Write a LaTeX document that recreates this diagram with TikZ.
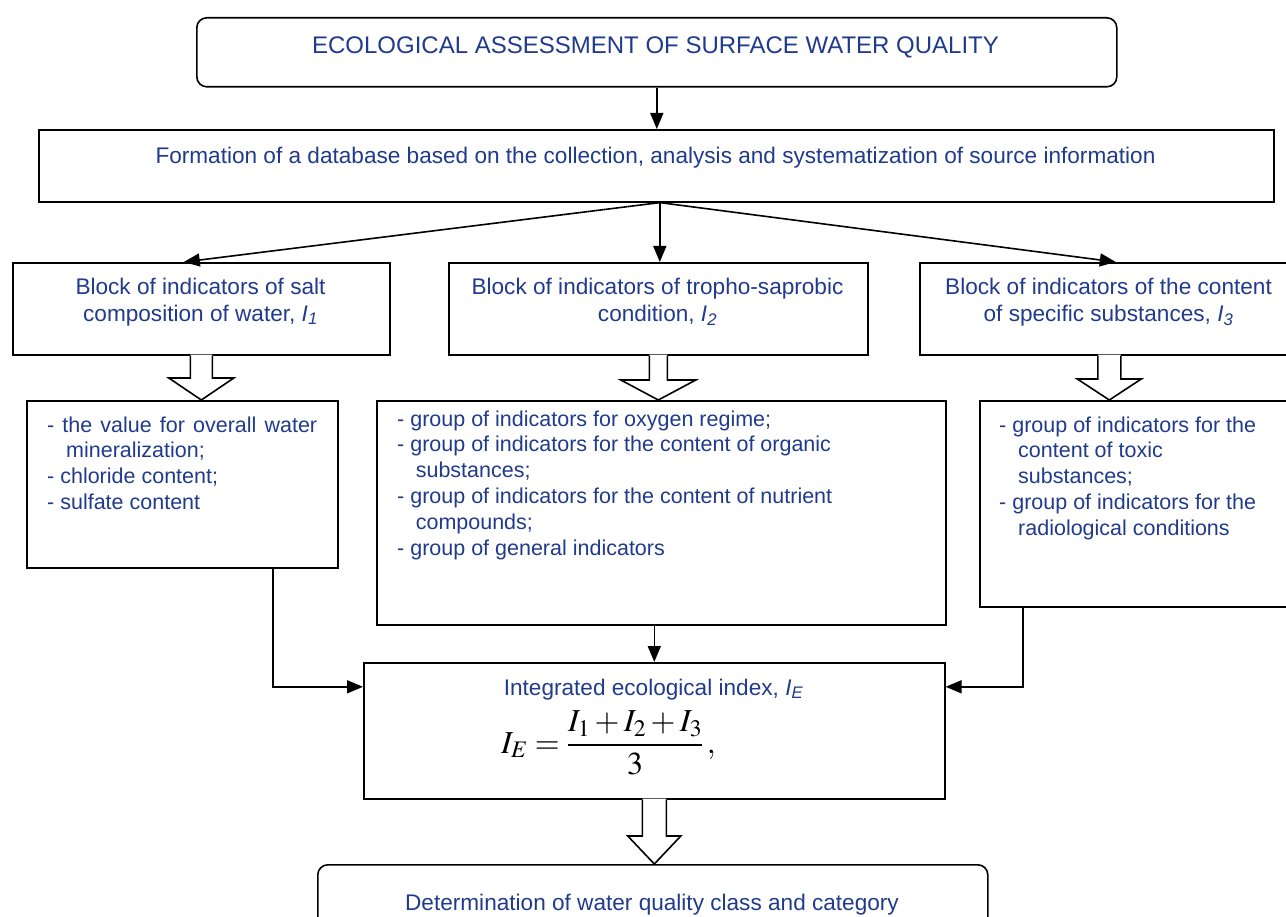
\documentclass[tikz,border=0pt]{standalone}
\usepackage{mathptmx}
\usepackage[no-math]{fontspec}
\setmainfont{Liberation Sans}
\usetikzlibrary{arrows.meta,calc}
\definecolor{tblue}{RGB}{32,58,140}
\newcommand{\hollowarr}[5]{%
  \path[fill=white] let \p1=(#1), \p2=(#2) in
    (\x1-#3,\y1+1pt) -- (\x1-#3,\y2+#5) -- (\x1-#4,\y2+#5) -- (\x1,\y2) -- (\x1+#4,\y2+#5) -- (\x1+#3,\y2+#5) -- (\x1+#3,\y1+1pt) -- cycle;
  \draw[line width=1.6pt, line join=miter] let \p1=(#1), \p2=(#2) in
    (\x1-#3,\y1) -- (\x1-#3,\y2+#5) -- (\x1-#4,\y2+#5) -- (\x1,\y2) -- (\x1+#4,\y2+#5) -- (\x1+#3,\y2+#5) -- (\x1+#3,\y1);
}
\begin{document}
\begin{tikzpicture}[x=1pt,y=-1pt,
  box/.style={draw, line width=1.6pt, inner sep=0pt, anchor=north west},
  rbox/.style={box, rounded corners=10pt},
  conn/.style={line width=1.6pt, -{Triangle[length=16pt,width=13pt]}},
  txt/.style={inner sep=0pt, text=tblue, align=center, font=\fontsize{22.6}{27}\selectfont, anchor=north},
  ttl/.style={txt, font=\fontsize{24}{28.8}\selectfont},
  lst/.style={inner sep=0pt, text=tblue, align=left, font=\fontsize{21.5}{25.8}\selectfont, anchor=north west},
]
\useasboundingbox (0,0) rectangle (1286,917);
\clip (0,0) rectangle (1286,917);

% boxes
\node[rbox, minimum width=920pt, minimum height=69pt] (top) at (196,17) {};
\node[box, minimum width=1235pt, minimum height=72pt] (db) at (38,129) {};
\node[box, minimum width=377pt, minimum height=92pt] (b1) at (12,262) {};
\node[box, minimum width=419pt, minimum height=92pt] (b2) at (448,262) {};
\node[box, minimum width=379pt, minimum height=92pt] (b3) at (919,262) {};
\node[box, minimum width=311pt, minimum height=167pt] (l1) at (26,400) {};
\node[box, minimum width=569pt, minimum height=224pt] (l2) at (376,400) {};
\node[box, minimum width=330pt, minimum height=206pt] (l3) at (979,400) {};
\node[box, minimum width=581pt, minimum height=136pt] (ie) at (363,662) {};
\node[rbox, minimum width=670pt, minimum height=80pt] (det) at (317,864) {};

% texts
\node[ttl] (ttop) at (655.5,32.8) {\strut ECOLOGICAL ASSESSMENT OF SURFACE WATER QUALITY};
\node[txt] (tdb) at (655.5,144.1) {\strut Formation of a database based on the collection, analysis and systematization of source information};
\node[txt] (tb1) at (200.5,275.1) {\strut Block of indicators of salt\\\strut composition of water, \textit{I\textsubscript{1}}};
\node[txt] (tb2) at (657.5,275.1) {\strut Block of indicators of tropho-saprobic\\\strut condition, \textit{I\textsubscript{2}}};
\node[txt] (tb3) at (1108.5,275.1) {\strut Block of indicators of the content\\\strut of specific substances, \textit{I\textsubscript{3}}};

\node[lst] (tl1) at (47,413.8) {\strut\makebox[270pt][s]{- the value for overall water}\\\hspace*{19pt}mineralization;\\- chloride content;\\- sulfate content};
\node[lst] (tl2) at (397,407.8) {\strut- group of indicators for oxygen regime;\\- group of indicators for the content of organic\\\hspace*{18.6pt}substances;\\- group of indicators for the content of nutrient\\\hspace*{18.6pt}compounds;\\- group of general indicators};
\node[lst] (tl3) at (999,413.8) {\strut- group of indicators for the\\\hspace*{19pt}content of toxic\\\hspace*{19pt}substances;\\- group of indicators for the\\\hspace*{19pt}radiological conditions};

\node[txt] (tie) at (653.5,676.1) {\strut Integrated ecological index, \textit{I\textsubscript{E}}};
\node[anchor=base west, inner sep=0pt, font=\fontsize{32}{38}\selectfont] (fml) at (501,753) {$\displaystyle I_E=\frac{I_1+I_2+I_3}{3}\,,$};
\node[txt] (tdet) at (652,891.1) {\strut Determination of water quality class and category};

% connectors
\draw[conn] (top.south) -- (top.south |- db.north);
\draw[conn] ([xshift=3.5pt]db.south) -- ([xshift=-17.5pt]b1.north);
\draw[conn] ([xshift=3.5pt]db.south) -- ([xshift=1.5pt]b2.north);
\draw[conn] ([xshift=3.5pt]db.south) -- ([xshift=6.5pt]b3.north);
\draw[conn] ([xshift=90.5pt]l1.south) |- ([yshift=44pt]ie.west);
\draw[conn] (l2.south -| ie.north) -- (ie.north);
\draw[conn] ([xshift=-122pt]l3.south) |- ([yshift=44pt]ie.east);

% hollow block arrows
\hollowarr{b1.south}{l1.north}{11pt}{32.5pt}{22pt}
\hollowarr{b2.south}{l2.north}{9pt}{37.5pt}{20pt}
\hollowarr{b3.south}{l3.north}{11.5pt}{32pt}{21pt}
\hollowarr{ie.south}{det.north}{12pt}{26.5pt}{28pt}
\end{tikzpicture}
\end{document}
